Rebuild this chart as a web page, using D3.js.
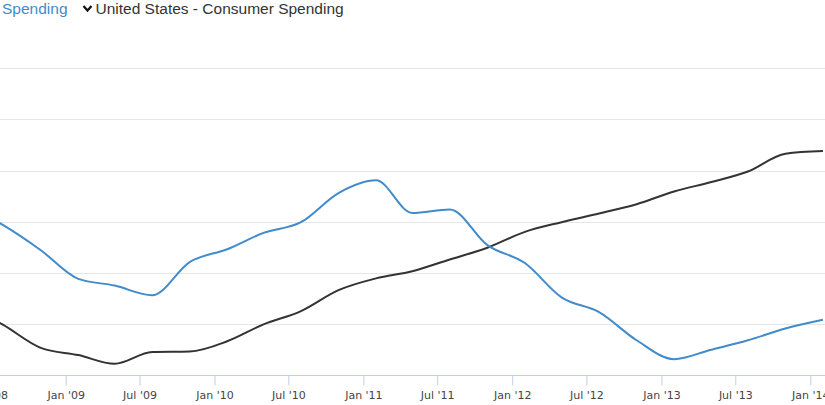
<!DOCTYPE html>
<html>
<head>
<meta charset="utf-8">
<script src="https://cdn.jsdelivr.net/npm/d3@7"></script>
<style>
    html, body { margin: 0; padding: 0; background: #ffffff; }
    #canvas { width: 825px; height: 405px; overflow: hidden; }
</style>
</head>
<body>
<div id="canvas"></div>
<script>
"use strict";

/* ---------------- DATA ---------------- */

// quarterly points (plotted on the first day of the quarter's middle month)
let dates = [
    "2008-05-01", "2008-08-01", "2008-11-01",
    "2009-02-01", "2009-05-01", "2009-08-01", "2009-11-01",
    "2010-02-01", "2010-05-01", "2010-08-01", "2010-11-01",
    "2011-02-01", "2011-05-01", "2011-08-01", "2011-11-01",
    "2012-02-01", "2012-05-01", "2012-08-01", "2012-11-01",
    "2013-02-01", "2013-05-01", "2013-08-01", "2013-11-01",
    "2014-02-01"
];

// blue series (legend cut off: "... Spending"), in grid units
let spendingValues = [
    3.33, 2.93, 2.44,
    1.88, 1.75, 1.56, 2.21,
    2.46, 2.78, 2.99, 3.56,
    3.81, 3.17, 3.24, 2.54,
    2.19, 1.52, 1.23, 0.68,
    0.31, 0.49, 0.68, 0.91,
    1.08
];

// United States - Consumer Spending, in grid units
let usSpendingValues = [
    1.37, 0.98, 0.53,
    0.39, 0.22, 0.45, 0.46,
    0.66, 0.99, 1.25, 1.66,
    1.89, 2.03, 2.26, 2.49,
    2.80, 2.99, 3.16, 3.34,
    3.59, 3.77, 3.98, 4.33,
    4.38
];

let tickDates = [
    "2008-07-01", "2009-01-01", "2009-07-01", "2010-01-01", "2010-07-01",
    "2011-01-01", "2011-07-01", "2012-01-01", "2012-07-01", "2013-01-01",
    "2013-07-01", "2014-01-01"
];

let legendNames = ["Spending", "United States - Consumer Spending"];

/* ---------------- SETUP ---------------- */

let svgWidth = 825;
let svgHeight = 405;

let plot = {
    left: 0,
    right: 825,
    top: 68.3,
    bottom: 375
};

let colors = {
    blue: "#428bca",
    dark: "#333333",
    grid: "#e6e6e6",
    axis: "#c0d0e0",
    label: "#444444"
};

let svg = d3.select("#canvas")
    .append("svg")
    .attr("width", svgWidth)
    .attr("height", svgHeight);

let parseDate = d3.utcParse("%Y-%m-%d");
let formatTick = d3.utcFormat("%b '%y");

let xScale = d3.scaleUtc()
    .domain([parseDate("2009-01-01"), parseDate("2014-01-01")])
    .range([65.7, 810.3]);

let yScale = d3.scaleLinear()
    .domain([0, 6])
    .range([plot.bottom, plot.top]);

/* ---------------- GRID ---------------- */

svg.append("g")
    .attr("class", "grid")
    .selectAll("line")
    .data(yScale.ticks(6).filter(function (d) { return d > 0; }))
    .join("line")
    .attr("x1", plot.left)
    .attr("x2", plot.right)
    .attr("y1", function (d) { return Math.round(yScale(d)) + 0.5; })
    .attr("y2", function (d) { return Math.round(yScale(d)) + 0.5; })
    .attr("stroke", colors.grid)
    .attr("stroke-width", 1);

/* ---------------- X AXIS ---------------- */

let xAxis = d3.axisBottom(xScale)
    .tickValues(tickDates.map(parseDate))
    .tickFormat(formatTick)
    .tickSize(10)
    .tickPadding(6);

let axisG = svg.append("g")
    .attr("transform", "translate(0," + (plot.bottom + 0.5) + ")")
    .call(xAxis);

axisG.select(".domain").remove();

axisG.selectAll(".tick line")
    .attr("stroke", colors.axis);

axisG.selectAll(".tick text")
    .attr("fill", colors.label)
    .attr("font-family", "DejaVu Sans, Verdana, sans-serif")
    .attr("font-size", "11px");

svg.append("line")
    .attr("x1", plot.left)
    .attr("x2", plot.right)
    .attr("y1", plot.bottom + 0.5)
    .attr("y2", plot.bottom + 0.5)
    .attr("stroke", colors.axis)
    .attr("stroke-width", 1);

/* ---------------- LINES ---------------- */

let line = d3.line()
    .x(function (d) { return xScale(d.date); })
    .y(function (d) { return yScale(d.value); })
    .curve(d3.curveMonotoneX);

function toPoints(values) {
    return values.map(function (v, i) {
        return { date: parseDate(dates[i]), value: v };
    });
}

svg.append("path")
    .datum(toPoints(usSpendingValues))
    .attr("d", line)
    .attr("fill", "none")
    .attr("stroke", colors.dark)
    .attr("stroke-width", 2);

svg.append("path")
    .datum(toPoints(spendingValues))
    .attr("d", line)
    .attr("fill", "none")
    .attr("stroke", colors.blue)
    .attr("stroke-width", 2);

/* ---------------- LEGEND ---------------- */

let legend = svg.append("g")
    .attr("font-family", "Liberation Sans, Arial, sans-serif")
    .attr("font-size", "15.5px");

legend.append("text")
    .attr("x", 2)
    .attr("y", 14)
    .attr("fill", colors.blue)
    .text(legendNames[0]);

// chevron in front of the second item
legend.append("path")
    .attr("d", "M 83.5 6 L 87.5 10.5 L 91.5 6")
    .attr("fill", "none")
    .attr("stroke", "#111111")
    .attr("stroke-width", 2.2);

legend.append("text")
    .attr("x", 95.5)
    .attr("y", 14)
    .attr("fill", colors.dark)
    .text(legendNames[1]);
</script>
</body>
</html>
